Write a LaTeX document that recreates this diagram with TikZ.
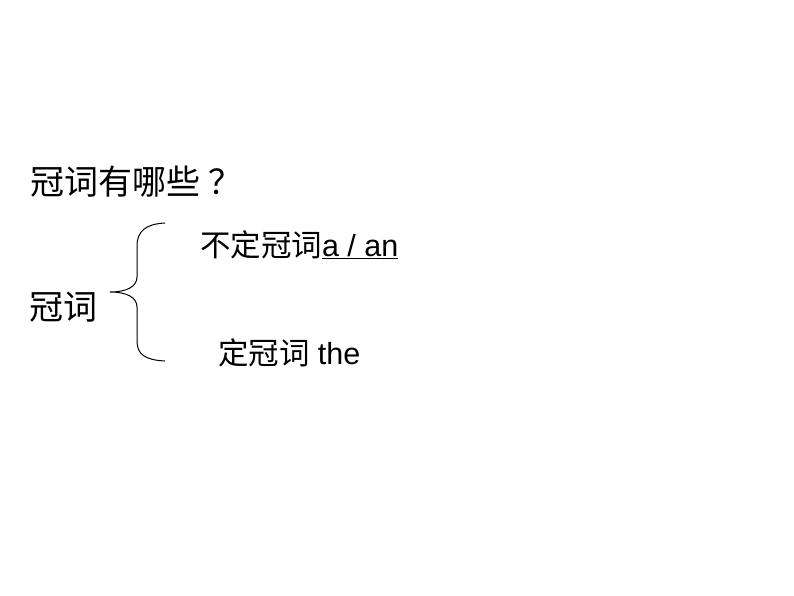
\documentclass[tikz,border=0pt]{standalone}
\usepackage{fontspec}
\setmainfont{Liberation Sans}
\newfontfamily\cjk{Noto Sans CJK SC}
\begin{document}
\begin{tikzpicture}[x=1pt,y=-1pt,
  txt/.style={anchor=west,inner sep=0pt,outer sep=0pt},
  big/.style={txt,font=\fontsize{34}{38}\selectfont},
  mid/.style={txt,font=\fontsize{30.5}{35}\selectfont},
  bracket/.style={line width=1pt,black}]
\useasboundingbox[fill=white] (0,0) rectangle (794,596);
\node[big] (title) at (30,182) {{\cjk 冠词有哪些}\hspace{0.25em}{\cjk ？}};
\node[big] (root) at (29,307) {\cjk 冠词};
\node[mid] (indef) at (200,245) {{\cjk 不定冠词}\underline{a / an}};
\node[mid] (def) at (218,353) {{\cjk 定冠词} the};
\coordinate (btop) at (165,223);
\coordinate (btip) at (110,292);
\coordinate (bbot) at (165,361);
\draw[bracket] (btop) .. controls (146,224) and (137,231) .. (137,246) -- (137,277)
  .. controls (137,287) and (126,292) .. (btip)
  .. controls (126,292) and (137,297) .. (137,307) -- (137,341)
  .. controls (137,355) and (146,360) .. (bbot);
\end{tikzpicture}
\end{document}
